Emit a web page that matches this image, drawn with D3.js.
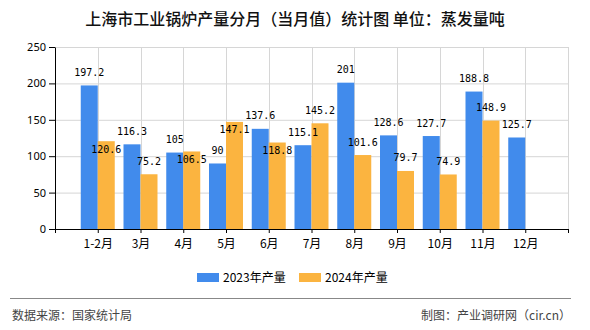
<!DOCTYPE html>
<html>
<head>
<meta charset="utf-8">
<script src="https://cdn.jsdelivr.net/npm/d3@7"></script>
<style>
  html, body { margin: 0; padding: 0; background: #fff; }
  svg { display: block; }
</style>
</head>
<body>
<svg id="chart" width="590" height="330"></svg>
<script>
// ---- data ----
const categories = ["1-2月","3月","4月","5月","6月","7月","8月","9月","10月","11月","12月"];
const series2023 = [197.2,116.3,105,90,137.6,115.1,201,128.6,127.7,188.8,125.7];
const series2024 = [120.6,75.2,106.5,147.1,118.8,145.2,101.6,79.7,74.9,148.9,null];
const yTicks = [0,50,100,150,200,250];
const seriesNames = ["2023年产量","2024年产量"];
// label placement of the 2024 values as seen in the picture ("in" = just below the bar top)
const label2024Place = ["in","top","in","in","in","top","top","top","top","top","top"];

const title = "上海市工业锅炉产量分月（当月值）统计图 单位：蒸发量吨";
const sourceText = "数据来源：国家统计局";
const creditText = "制图：产业调研网（cir.cn）";

// ---- layout ----
const W = 590, H = 330;
const plot = { left: 55, right: 568, top: 47, bottom: 229 };
const colors = ["#418BEC", "#FBB440"];
const barW = 17;
const gridColor = "#d6d6d6";

const svg = d3.select("#chart");

const domain = ["__s", ...categories, "__e"];
const x = d3.scalePoint().domain(domain).range([plot.left, plot.right]).padding(0);
const y = d3.scaleLinear().domain([0, 250]).range([plot.bottom, plot.top]);

// title
svg.append("text")
  .attr("x", 295).attr("y", 25)
  .attr("text-anchor", "middle")
  .attr("font-family", "'Noto Sans CJK SC', sans-serif")
  .attr("font-size", 16)
  .attr("font-weight", 500)
  .attr("fill", "#111")
  .text(title);

// grid
const grid = svg.append("g");
grid.selectAll("line.h").data(yTicks.filter(d => d > 0)).join("line")
  .attr("x1", plot.left).attr("x2", plot.right)
  .attr("y1", d => y(d) + 0.5).attr("y2", d => y(d) + 0.5)
  .attr("stroke", gridColor).attr("stroke-width", 1);
grid.selectAll("line.v").data(domain.slice(1)).join("line")
  .attr("x1", d => Math.round(x(d)) + 0.5).attr("x2", d => Math.round(x(d)) + 0.5)
  .attr("y1", plot.top).attr("y2", plot.bottom)
  .attr("stroke", gridColor).attr("stroke-width", 1);

// bars
const barsG = svg.append("g");
barsG.selectAll("rect.b23").data(categories.map((c, i) => ({ c, v: series2023[i] })).filter(d => d.v != null))
  .join("rect")
  .attr("x", d => x(d.c) - barW)
  .attr("y", d => y(d.v))
  .attr("width", barW)
  .attr("height", d => y(0) - y(d.v))
  .attr("fill", colors[0]);
barsG.selectAll("rect.b24").data(categories.map((c, i) => ({ c, v: series2024[i] })).filter(d => d.v != null))
  .join("rect")
  .attr("x", d => x(d.c))
  .attr("y", d => y(d.v))
  .attr("width", barW)
  .attr("height", d => y(0) - y(d.v))
  .attr("fill", colors[1]);

// axes
const xAxis = d3.axisBottom(x).tickSize(4).tickSizeOuter(0)
  .tickFormat(d => d.startsWith("__") ? "" : d);
const gx = svg.append("g").attr("transform", `translate(0,${plot.bottom})`).call(xAxis);
gx.select(".domain").attr("stroke", "#000");
gx.selectAll(".tick line").attr("stroke", "#000");
gx.selectAll(".tick text")
  .attr("font-family", "'Noto Sans CJK SC', sans-serif")
  .attr("font-size", 12).attr("fill", "#000").attr("dy", "1.0em");

const yAxis = d3.axisLeft(y).tickValues(yTicks).tickSize(6).tickSizeOuter(0).tickPadding(3);
const gy = svg.append("g").attr("transform", `translate(${plot.left},0)`).call(yAxis);
gy.select(".domain").attr("stroke", "#000");
gy.selectAll(".tick line").attr("stroke", "#000");
gy.selectAll(".tick text")
  .attr("font-family", "'Noto Sans', sans-serif")
  .attr("font-size", 11).attr("fill", "#000");

// value labels
const labelFont = "'DejaVu Sans Mono', monospace";
const labels = svg.append("g")
  .attr("font-family", labelFont).attr("font-size", 10).attr("fill", "#000")
  .attr("text-anchor", "middle");
categories.forEach((c, i) => {
  const v1 = series2023[i];
  if (v1 != null) {
    labels.append("text")
      .attr("x", x(c) - barW / 2)
      .attr("y", y(v1) - 13).attr("dy", "0.35em")
      .text(v1);
  }
  const v2 = series2024[i];
  if (v2 != null) {
    const off = label2024Place[i] === "in" ? 8 : -13;
    labels.append("text")
      .attr("x", x(c) + barW / 2)
      .attr("y", y(v2) + off).attr("dy", "0.35em")
      .text(v2);
  }
});

// legend
const legend = svg.append("g");
const legendItems = [{ name: seriesNames[0], color: colors[0], x: 197 },
                     { name: seriesNames[1], color: colors[1], x: 299 }];
legendItems.forEach(it => {
  legend.append("rect").attr("x", it.x).attr("y", 273).attr("width", 22).attr("height", 9).attr("fill", it.color);
  legend.append("text").attr("x", it.x + 26).attr("y", 277.5).attr("dy", "0.35em")
    .attr("font-family", "'Noto Sans CJK SC', sans-serif").attr("font-size", 12).attr("fill", "#000")
    .text(it.name);
});

// separator + footer
svg.append("line").attr("x1", 10).attr("x2", 571).attr("y1", 298.5).attr("y2", 298.5)
  .attr("stroke", "#888").attr("stroke-width", 1);
svg.append("text").attr("x", 12).attr("y", 316).attr("dy", "0.35em")
  .attr("font-family", "'Noto Sans CJK SC', sans-serif").attr("font-size", 12).attr("fill", "#444")
  .text(sourceText);
svg.append("text").attr("x", 571).attr("y", 316).attr("dy", "0.35em").attr("text-anchor", "end")
  .attr("font-family", "'Noto Sans CJK SC', sans-serif").attr("font-size", 12).attr("fill", "#444")
  .text(creditText);
</script>
</body>
</html>
